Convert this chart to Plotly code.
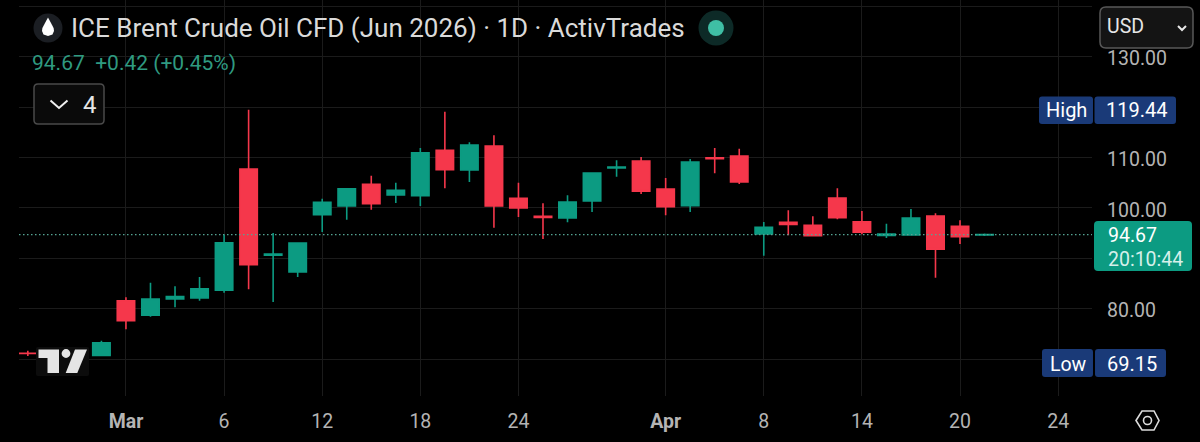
"""ICE Brent daily candles, dark TradingView style."""
import plotly.graph_objects as go

dates = [
    "Feb 24", "Feb 25", "Feb 26", "Feb 27", "Mar 2", "Mar 3", "Mar 4", "Mar 5", "Mar 6",
    "Mar 9", "Mar 10", "Mar 11", "Mar 12", "Mar 13", "Mar 16", "Mar 17", "Mar 18", "Mar 19",
    "Mar 20", "Mar 23", "Mar 24", "Mar 25", "Mar 26", "Mar 27", "Mar 30", "Mar 31", "Apr 1",
    "Apr 2", "Apr 6", "Apr 7", "Apr 8", "Apr 9", "Apr 10", "Apr 13", "Apr 14", "Apr 15",
    "Apr 16", "Apr 17", "Apr 20", "Apr 21",
]
future_dates = ["Apr 22", "Apr 23", "Apr 24"]

opens = [
    71.15, 71.10, 70.90, 70.73, 81.57, 78.67, 81.90, 82.10, 83.63,
    107.70, 90.60, 87.26, 98.63, 100.36, 104.66, 102.54, 102.40, 111.41,
    107.50, 112.26, 101.88, 98.30, 97.98, 101.35, 107.90, 109.29, 103.73,
    100.42, 109.90, 110.28, 94.80, 97.12, 96.53, 101.94, 97.24, 94.50,
    94.60, 98.37, 96.33, 94.62,
]
highs = [
    71.65, 71.60, 71.50, 73.63, 82.24, 85.14, 84.42, 86.27, 94.66,
    119.44, 95.00, 93.10, 101.80, 103.93, 106.37, 104.98, 111.87, 119.07,
    113.00, 114.38, 104.98, 100.89, 102.48, 106.95, 109.42, 110.08, 105.91,
    109.68, 111.87, 111.73, 97.18, 99.50, 98.31, 103.87, 99.37, 96.85,
    99.76, 98.91, 97.52, 94.90,
]
lows = [
    70.60, 70.30, 69.15, 70.54, 75.89, 78.39, 80.26, 81.57, 83.15,
    83.83, 81.31, 86.27, 95.20, 97.64, 99.62, 100.95, 100.36, 103.87,
    105.12, 96.05, 98.17, 93.81, 97.12, 99.17, 106.17, 102.74, 98.51,
    99.17, 106.85, 104.72, 90.50, 94.54, 94.35, 97.72, 94.74, 94.01,
    94.50, 86.13, 92.82, 94.40,
]
closes = [
    71.10, 70.90, 71.20, 73.23, 77.60, 81.90, 82.40, 83.95, 93.08,
    88.71, 90.80, 93.02, 101.09, 103.79, 100.81, 103.47, 110.93, 107.56,
    112.46, 100.36, 99.96, 98.10, 101.15, 106.90, 108.10, 103.27, 100.22,
    109.09, 109.75, 105.12, 96.13, 96.70, 94.46, 98.04, 95.14, 94.80,
    97.98, 91.77, 94.27, 94.67,
]

x_tick_dates = ["Mar 2", "Mar 6", "Mar 12", "Mar 18", "Mar 24", "Apr 1", "Apr 8", "Apr 14", "Apr 20", "Apr 24"]
x_tick_labels = ["<b>Mar</b>", "6", "12", "18", "24", "<b>Apr</b>", "8", "14", "20", "24"]
y_ticks = [70, 80, 90, 100, 110, 120, 130, 140]
y_tick_labels = ["", "80.00", "", "100.00", "110.00", "", "130.00", ""]

last_price = 94.67
title_text = "ICE Brent Crude Oil CFD (Jun 2026) · 1D · ActivTrades"
change_text = "94.67  +0.42 (+0.45%)"

UP = "#0c9b82"
DOWN = "#f5374b"
GRID = "#1b1b1b"
TICK = "#b4b4b4"
NAVY = "#1a3a78"
FONT = "Roboto"

# plot area in page pixels
LEFT, RIGHT, BOTTOM = 19, 1092, 396


def px(x):
    return (x - LEFT) / (RIGHT - LEFT)


def py(y):
    return 1 - y / BOTTOM


def poly(points, close=True):
    path = "M " + " L ".join(f"{px(x):.5f},{py(y):.5f}" for x, y in points)
    return path + (" Z" if close else "")


def rounded(x0, y0, x1, y1, r=4):
    return (
        f"M {px(x0 + r):.5f},{py(y0):.5f} L {px(x1 - r):.5f},{py(y0):.5f} "
        f"Q {px(x1):.5f},{py(y0):.5f} {px(x1):.5f},{py(y0 + r):.5f} "
        f"L {px(x1):.5f},{py(y1 - r):.5f} Q {px(x1):.5f},{py(y1):.5f} {px(x1 - r):.5f},{py(y1):.5f} "
        f"L {px(x0 + r):.5f},{py(y1):.5f} Q {px(x0):.5f},{py(y1):.5f} {px(x0):.5f},{py(y1 - r):.5f} "
        f"L {px(x0):.5f},{py(y0 + r):.5f} Q {px(x0):.5f},{py(y0):.5f} {px(x0 + r):.5f},{py(y0):.5f} Z"
    )


def path_shape(path, fill="rgba(0,0,0,0)", line=None, width=0):
    return dict(
        type="path", xref="paper", yref="paper", path=path, fillcolor=fill,
        line=dict(color=line or "rgba(0,0,0,0)", width=width), layer="above",
    )


def circle(cx, cy, r, fill="rgba(0,0,0,0)", line=None, width=0):
    return dict(
        type="circle", xref="paper", yref="paper",
        x0=px(cx - r), x1=px(cx + r), y0=py(cy + r), y1=py(cy - r),
        fillcolor=fill, line=dict(color=line or "rgba(0,0,0,0)", width=width), layer="above",
    )


def label(x, y, text, size=19, color="#ffffff", anchor="left"):
    return dict(
        x=px(x), y=py(y), xref="paper", yref="paper", text=text, showarrow=False,
        xanchor=anchor, yanchor="middle", font=dict(family=FONT, size=size, color=color),
    )


fig = go.Figure()
fig.add_trace(go.Candlestick(
    x=dates, open=opens, high=highs, low=lows, close=closes,
    increasing=dict(line=dict(color=UP, width=1.6), fillcolor=UP),
    decreasing=dict(line=dict(color=DOWN, width=1.6), fillcolor=DOWN),
    whiskerwidth=0, showlegend=False,
))

shapes = [
    # last price line
    dict(type="line", xref="paper", yref="y", x0=0, x1=1, y0=last_price, y1=last_price,
         line=dict(color="#55a594", width=1.3, dash="1.5px,2.5px"), layer="above"),
    # TradingView logo
    path_shape(rounded(36, 347, 89, 376, 2), fill="#0c0c0c"),
    path_shape(poly([(38.5, 349.5), (59, 349.5), (59, 373), (47.5, 373), (47.5, 358), (38.5, 358)]), fill="#e4e4e4"),
    circle(66, 353.5, 4.4, fill="#e4e4e4"),
    path_shape(poly([(75, 349.5), (87, 349.5), (77.3, 373), (65.7, 373)]), fill="#e4e4e4"),
    # symbol icon and market status
    circle(48, 28, 14.5, fill="#1b1e23"),
    path_shape(poly([(48, 17.5), (51, 23), (53.6, 28), (54, 31), (52.5, 34.5), (48, 36), (43.5, 34.5), (42, 31), (42.4, 28), (45, 23)]), fill="#ffffff"),
    circle(716, 28, 17.5, fill="#0d2a27"),
    circle(716, 28, 8, fill="#3fbfa5"),
    # indicator toggle
    path_shape(rounded(34, 84, 104, 124, 4), fill="#0a0a0a", line="#4a4a4a", width=1.5),
    path_shape(poly([(50.5, 100.5), (59, 108), (67.5, 100.5)], close=False), line="#f0f0f0", width=2),
    # currency box
    path_shape(rounded(1100, 7, 1193, 48, 6), fill="#141414", line="#585858", width=1.5),
    path_shape(poly([(1178, 26), (1182, 30), (1186, 26)], close=False), line="#e8e8e8", width=2),
    # high, low and price pills
    path_shape(rounded(1039, 96.5, 1093, 124, 3), fill=NAVY),
    path_shape(rounded(1094.5, 96.5, 1176, 124, 3), fill=NAVY),
    path_shape(rounded(1042, 349, 1093, 377, 3), fill=NAVY),
    path_shape(rounded(1095, 349, 1166, 377, 3), fill=NAVY),
    path_shape(rounded(1094, 221, 1192, 271, 4), fill="#0c9b82"),
    # settings hexagon
    path_shape(poly([(1136, 420.5), (1142, 411), (1154, 411), (1159, 420.5), (1154, 430), (1142, 430)]), line="#dcdcdc", width=1.6),
    circle(1147.5, 420.5, 4, line="#dcdcdc", width=1.6),
]

annotations = [
    label(68.5, 28, title_text, size=26, color="#dadada"),
    label(30, 63, change_text, size=21, color="#2f9a80"),
    label(81, 105, "4", size=24, color="#e6e6e6"),
    label(1105, 27, "USD", size=19.5, color="#e6e6e6"),
    label(1044, 110, "High", size=20),
    label(1169, 110, "119.44", size=20, anchor="right"),
    label(1048, 364, "Low", size=19.5),
    label(1159, 364, "69.15", size=20, anchor="right"),
    label(1106, 235.5, "94.67", size=19.5),
    label(1106, 259, "20:10:44", size=19.5, color="#d5f0ea"),
]

fig.update_layout(
    width=1200, height=442,
    margin=dict(l=LEFT, r=1200 - RIGHT, t=0, b=442 - BOTTOM),
    paper_bgcolor="#000000", plot_bgcolor="#000000",
    boxgap=0.29, boxgroupgap=0,
    showlegend=False,
    shapes=shapes,
    annotations=annotations,
    font=dict(family=FONT, color=TICK),
    xaxis=dict(
        type="category", categoryorder="array", categoryarray=dates + future_dates,
        range=[-0.36, 43.38], tickmode="array", tickvals=x_tick_dates, ticktext=x_tick_labels,
        showgrid=True, gridcolor=GRID, gridwidth=1, zeroline=False, showline=False,
        ticks="", ticklabelstandoff=11, tickfont=dict(family=FONT, size=19.5, color=TICK),
        rangeslider=dict(visible=False), tickangle=0,
    ),
    yaxis=dict(
        side="right", range=[62.66, 141.23], tickmode="array", tickvals=y_ticks, ticktext=y_tick_labels,
        showgrid=True, gridcolor=GRID, gridwidth=1, zeroline=False, showline=False,
        ticks="", ticklabelstandoff=14, ticklabelshift=2, tickfont=dict(family=FONT, size=19.5, color=TICK),
    ),
)

# drop the browser's default page margin so the chart fills the window
fig.write_html(
    "out.html",
    config={"displayModeBar": False},
    post_script="document.body.style.margin='0';document.body.style.background='#000';document.body.style.overflow='hidden';",
)
